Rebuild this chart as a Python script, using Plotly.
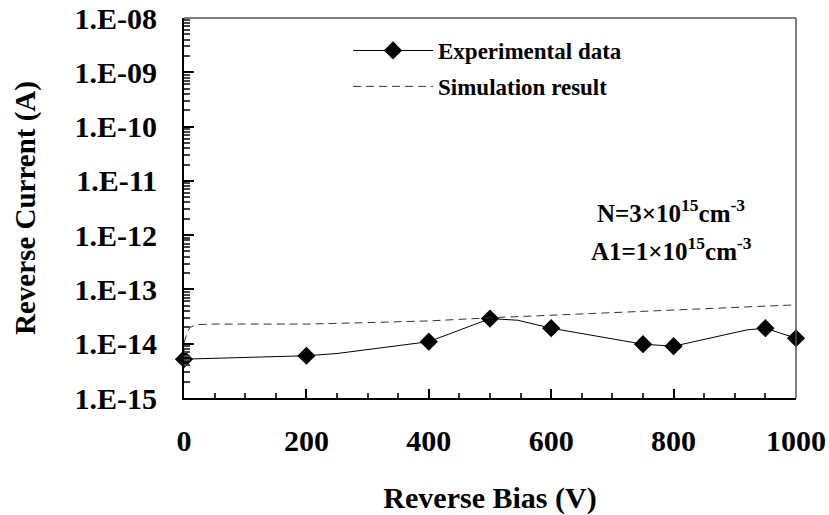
import plotly.graph_objects as go

# Experimental data: markers
exp_x = [0, 200, 400, 500, 600, 750, 800, 950, 1000]
exp_y = [5.2e-15, 6.0e-15, 1.09e-14, 2.9e-14, 1.93e-14, 9.8e-15, 9.0e-15, 1.93e-14, 1.26e-14]
# Experimental data: connecting line (includes unmarked intermediate points)
exp_line_x = [0, 200, 250, 400, 500, 545, 600, 750, 800, 920, 950, 1000]
exp_line_y = [5.2e-15, 6.0e-15, 6.6e-15, 1.09e-14, 2.9e-14, 2.71e-14, 1.93e-14, 9.8e-15, 9.0e-15, 1.8e-14, 1.93e-14, 1.26e-14]

# Simulation result
sim_x = [0, 5, 10, 20, 50, 100, 200, 300, 400, 500, 600, 700, 800, 900, 1000]
sim_y = [1.03e-14, 1.6e-14, 2.0e-14, 2.25e-14, 2.3e-14, 2.3e-14, 2.3e-14, 2.45e-14, 2.63e-14,
         3.0e-14, 3.35e-14, 3.8e-14, 4.3e-14, 4.75e-14, 5.2e-14]

y_tickvals = [1e-15, 1e-14, 1e-13, 1e-12, 1e-11, 1e-10, 1e-9, 1e-8]
y_ticktext = ["1.E-15", "1.E-14", "1.E-13", "1.E-12", "1.E-11", "1.E-10", "1.E-09", "1.E-08"]
y_minor_mult = [2, 3, 4, 5, 6, 7, 8, 9]
x_tickvals = [0, 200, 400, 600, 800, 1000]

FONT = "Times New Roman, Liberation Serif, serif"

fig = go.Figure()
fig.add_trace(go.Scatter(
    x=exp_line_x, y=exp_line_y, mode="lines",
    line=dict(color="black", width=1), showlegend=False, hoverinfo="skip"))
fig.add_trace(go.Scatter(
    x=exp_x, y=exp_y, mode="markers", showlegend=False,
    marker=dict(symbol="diamond", size=14, color="black"),
    cliponaxis=False))
fig.add_trace(go.Scatter(
    x=[None], y=[None], mode="lines+markers", name="Experimental data",
    line=dict(color="black", width=1),
    marker=dict(symbol="diamond", size=14, color="black"),
    legendgroup="exp"))
fig.add_trace(go.Scatter(
    x=sim_x, y=sim_y, mode="lines", name="Simulation result",
    line=dict(color="#333333", width=1, dash="8px,5px"),
    legendgroup="sim"))

fig.update_layout(
    width=829, height=515,
    margin=dict(l=184, r=33, t=18, b=117),
    paper_bgcolor="white", plot_bgcolor="white",
    font=dict(family=FONT, color="black"),
    showlegend=True,
    legend=dict(
        x=0.268, y=0.971, xanchor="left", yanchor="top",
        font=dict(family=FONT, size=23, weight="bold"),
        bgcolor="rgba(0,0,0,0)", tracegroupgap=3, itemwidth=80,
    ),
    xaxis=dict(
        range=[0, 1000], tickvals=x_tickvals, automargin=False,
        ticks="inside", ticklen=9, tickwidth=1.5, tickcolor="black",
        showline=True, linewidth=2, linecolor="black", showgrid=False, zeroline=False,
        tickfont=dict(family=FONT, size=30, weight="bold"),
        ticklabelstandoff=15,
        minor=dict(dtick=50, ticks="inside", ticklen=5, tickwidth=1.5, tickcolor="#333333", showgrid=False),
        title=dict(text="Reverse Bias (V)", font=dict(family=FONT, size=30, weight="bold"), standoff=45),
    ),
    yaxis=dict(
        type="log", range=[-15, -8], tickmode="array", tickvals=y_tickvals, ticktext=y_ticktext,
        automargin=False,
        ticks="inside", ticklen=10, tickwidth=1.5, tickcolor="black",
        ticklabelstandoff=19,
        showline=True, linewidth=2, linecolor="black", showgrid=False, zeroline=False,
        tickfont=dict(family=FONT, size=30, weight="bold"),
        minor=dict(ticks="inside", ticklen=6, tickwidth=1.5, tickcolor="#444444", showgrid=False,
                   tickmode="array",
                   tickvals=[m * 10.0 ** e for e in range(-15, -8) for m in y_minor_mult]),
        title=dict(text="Reverse Current (A)", font=dict(family=FONT, size=29, weight="bold"), standoff=30),
    ),
    shapes=[
        dict(type="line", xref="paper", yref="paper", x0=0, x1=1, y0=1, y1=1,
             line=dict(color="#555555", width=1.5)),
        dict(type="line", xref="paper", yref="paper", x0=1, x1=1, y0=0, y1=1,
             line=dict(color="#555555", width=1.5)),
    ],
    annotations=[
        dict(text="N=3×10<sup>15</sup>cm<sup>-3</sup>", xref="paper", yref="paper",
             x=(671 - 184) / 612, y=1 - (211 - 18) / 380, showarrow=False,
             font=dict(family=FONT, size=25, weight="bold"), xanchor="center", yanchor="middle"),
        dict(text="A1=1×10<sup>15</sup>cm<sup>-3</sup>", xref="paper", yref="paper",
             x=(671 - 184) / 612, y=1 - (249 - 18) / 380, showarrow=False,
             font=dict(family=FONT, size=25, weight="bold"), xanchor="center", yanchor="middle"),
    ],
)

fig.write_html("out.html")
